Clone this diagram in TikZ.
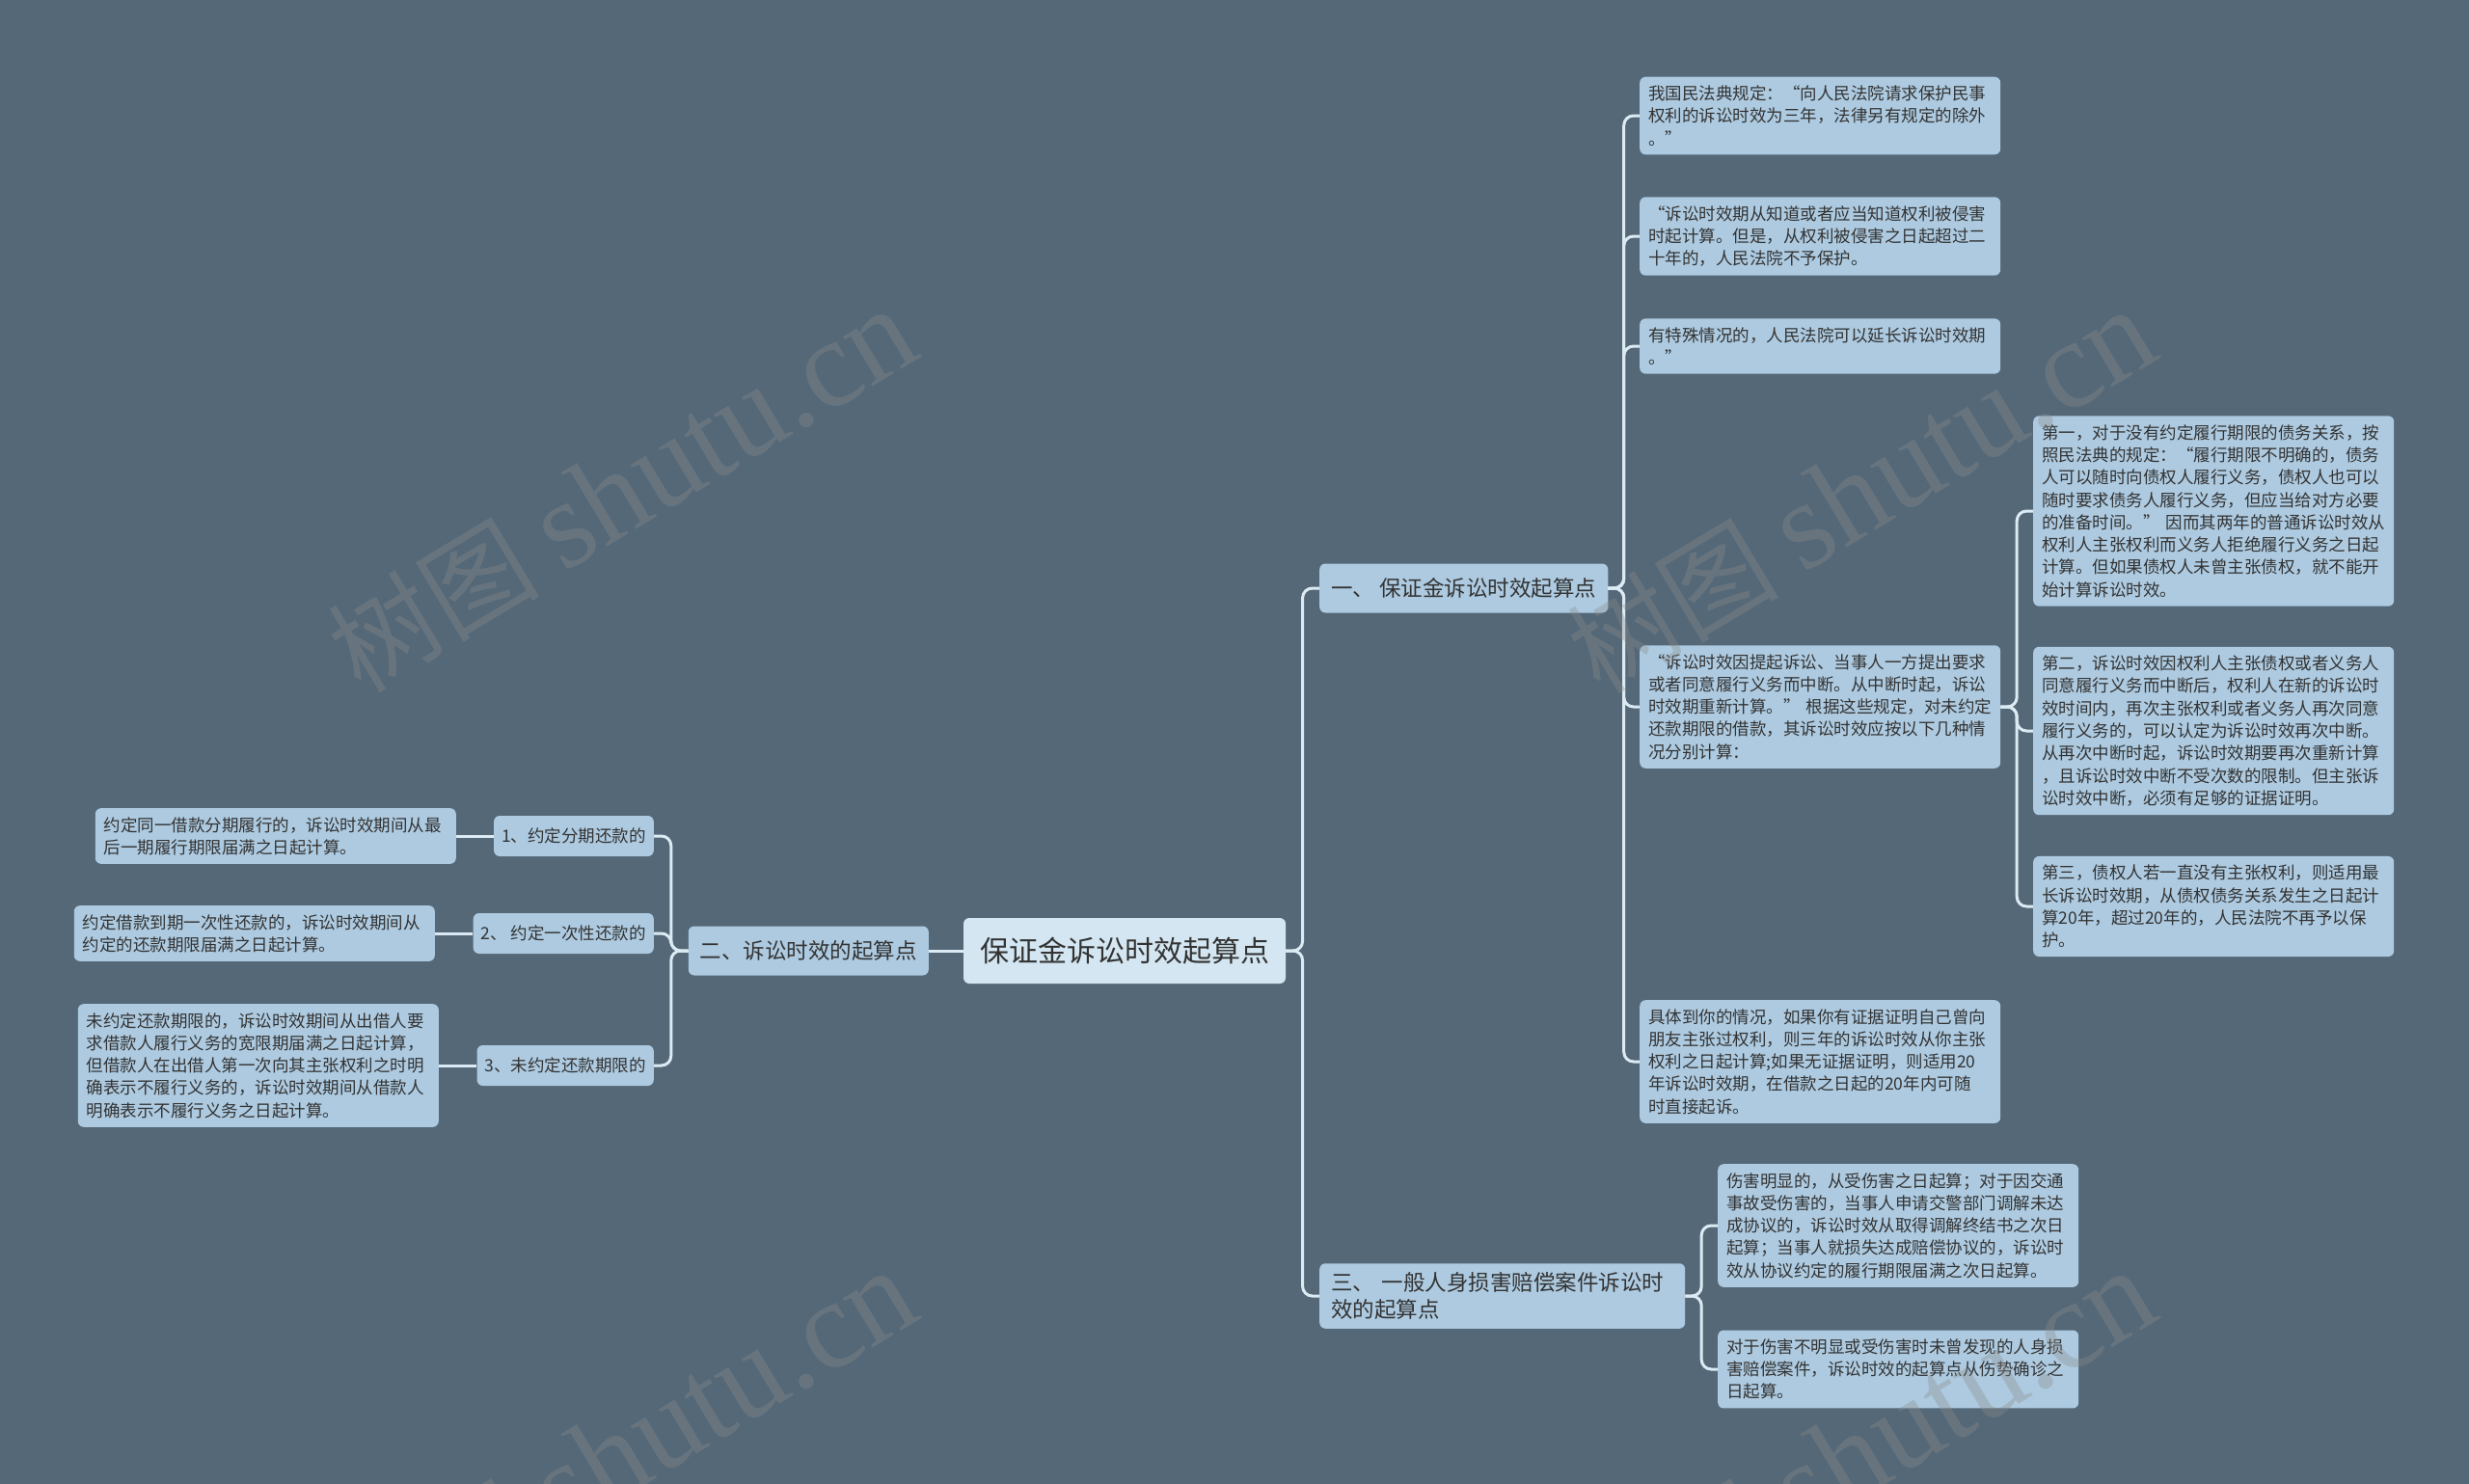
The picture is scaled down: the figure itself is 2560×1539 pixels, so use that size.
\documentclass[tikz,border=0pt]{standalone}
\usepackage{fontspec}
\setmainfont{Noto Sans CJK SC}
\newfontfamily\wmlatin{Liberation Serif}
\usetikzlibrary{calc}
\definecolor{bgc}{HTML}{546878}
\definecolor{nodec}{HTML}{ADCAE0}
\definecolor{rootc}{HTML}{D3E6F1}
\definecolor{linec}{HTML}{DCEBF3}
\definecolor{txtc}{HTML}{333333}
\definecolor{wmc}{HTML}{8C8C8C}
\tikzset{
  box/.style={fill=nodec, rounded corners=6pt, text=txtc, inner xsep=9pt, inner ysep=9pt, align=left},
  leafbox/.style={box, font=\fontsize{17.5}{23.3}\selectfont, text width=356pt},
  subbox/.style={box, font=\fontsize{17.5}{21}\selectfont, inner xsep=8pt, minimum height=42pt},
  branchbox/.style={box, font=\fontsize{22.5}{28.5}\selectfont, inner xsep=12pt, minimum height=51pt},
  rootbox/.style={box, fill=rootc, font=\fontsize{30}{36}\selectfont, inner xsep=17pt, minimum height=68pt},
  conn/.style={draw=linec, line width=3pt, rounded corners=10pt},
  wm/.style={text=wmc, opacity=0.35, text opacity=0.35, rotate=31, inner sep=0pt}
}
\newcommand\rconn[2]{\draw[conn] let \p1=(#1.east), \p2=(#2.west) in (\p1) -- ({(\x1+\x2)/2},\y1) |- (\p2);}
\newcommand\lconn[2]{\draw[conn] let \p1=(#1.west), \p2=(#2.east) in (\p1) -- ({(\x1+\x2)/2},\y1) |- (\p2);}
\begin{document}
\begin{tikzpicture}[x=1pt,y=-1pt]
\fill[bgc] (0,0) rectangle (2560,1539);
\useasboundingbox (0,0) rectangle (2560,1539);

% root and branches
\node[rootbox, anchor=center] (root) at (1166,986) {保证金诉讼时效起算点};
\node[branchbox, anchor=east] (b2) at (963,986) {二、诉讼时效的起算点};
\node[branchbox, anchor=west] (b1) at (1368,610) {一、 保证金诉讼时效起算点};
\node[branchbox, anchor=west, text width=355pt] (b3) at (1368,1344) {三、 一般人身损害赔偿案件诉讼时\\效的起算点};

% left subtree
\node[subbox, anchor=east] (s1) at (678,867) {1、约定分期还款的};
\node[subbox, anchor=east] (s2) at (678,968) {2、 约定一次性还款的};
\node[subbox, anchor=east] (s3) at (678,1105) {3、未约定还款期限的};
\node[leafbox, anchor=east] (a1) at (473,867) {约定同一借款分期履行的，诉讼时效期间从最\\后一期履行期限届满之日起计算。};
\node[leafbox, anchor=east] (a2) at (451,968) {约定借款到期一次性还款的，诉讼时效期间从\\约定的还款期限届满之日起计算。};
\node[leafbox, anchor=east] (a3) at (455,1105) {未约定还款期限的，诉讼时效期间从出借人要\\求借款人履行义务的宽限期届满之日起计算，\\但借款人在出借人第一次向其主张权利之时明\\确表示不履行义务的，诉讼时效期间从借款人\\明确表示不履行义务之日起计算。};

% right subtree one
\node[leafbox, anchor=west] (c1) at (1700,120) {我国民法典规定：“向人民法院请求保护民事\\权利的诉讼时效为三年，法律另有规定的除外\\。”};
\node[leafbox, anchor=west] (c2) at (1700,245) {“诉讼时效期从知道或者应当知道权利被侵害\\时起计算。但是，从权利被侵害之日起超过二\\十年的，人民法院不予保护。};
\node[leafbox, anchor=west] (c3) at (1700,359) {有特殊情况的，人民法院可以延长诉讼时效期\\。”};
\node[leafbox, anchor=west] (c4) at (1700,733) {“诉讼时效因提起诉讼、当事人一方提出要求\\或者同意履行义务而中断。从中断时起，诉讼\\时效期重新计算。” 根据这些规定，对未约定\\还款期限的借款，其诉讼时效应按以下几种情\\况分别计算：};
\node[leafbox, anchor=west] (c5) at (1700,1101) {具体到你的情况，如果你有证据证明自己曾向\\朋友主张过权利，则三年的诉讼时效从你主张\\权利之日起计算;如果无证据证明，则适用20\\年诉讼时效期，在借款之日起的20年内可随\\时直接起诉。};

\node[leafbox, anchor=west] (d1) at (2108,530) {第一，对于没有约定履行期限的债务关系，按\\照民法典的规定：“履行期限不明确的，债务\\人可以随时向债权人履行义务，债权人也可以\\随时要求债务人履行义务，但应当给对方必要\\的准备时间。” 因而其两年的普通诉讼时效从\\权利人主张权利而义务人拒绝履行义务之日起\\计算。但如果债权人未曾主张债权，就不能开\\始计算诉讼时效。};
\node[leafbox, anchor=west] (d2) at (2108,758) {第二，诉讼时效因权利人主张债权或者义务人\\同意履行义务而中断后，权利人在新的诉讼时\\效时间内，再次主张权利或者义务人再次同意\\履行义务的，可以认定为诉讼时效再次中断。\\从再次中断时起，诉讼时效期要再次重新计算\\，且诉讼时效中断不受次数的限制。但主张诉\\讼时效中断，必须有足够的证据证明。};
\node[leafbox, anchor=west] (d3) at (2108,940) {第三，债权人若一直没有主张权利，则适用最\\长诉讼时效期，从债权债务关系发生之日起计\\算20年，超过20年的，人民法院不再予以保\\护。};

% right subtree three
\node[leafbox, anchor=west] (t1) at (1781,1271) {伤害明显的，从受伤害之日起算；对于因交通\\事故受伤害的，当事人申请交警部门调解未达\\成协议的，诉讼时效从取得调解终结书之次日\\起算；当事人就损失达成赔偿协议的，诉讼时\\效从协议约定的履行期限届满之次日起算。};
\node[leafbox, anchor=west] (t2) at (1781,1420) {对于伤害不明显或受伤害时未曾发现的人身损\\害赔偿案件，诉讼时效的起算点从伤势确诊之\\日起算。};

% connectors
\begin{scope}[on background layer/.style={}]
\draw[conn] (root.west) -- (b2.east);
\rconn{root}{b1}
\rconn{root}{b3}
\lconn{b2}{s1}
\lconn{b2}{s2}
\lconn{b2}{s3}
\draw[conn] (s1.west) -- (a1.east);
\draw[conn] (s2.west) -- (a2.east);
\draw[conn] (s3.west) -- (a3.east);
\rconn{b1}{c1}
\rconn{b1}{c2}
\rconn{b1}{c3}
\rconn{b1}{c4}
\rconn{b1}{c5}
\rconn{c4}{d1}
\rconn{c4}{d2}
\rconn{c4}{d3}
\rconn{b3}{t1}
\rconn{b3}{t2}
\end{scope}

% watermarks
\begin{scope}
\clip (0,0) rectangle (2560,1539);
\node[wm] (w1) at (645,509) {\fontsize{110}{120}\selectfont 树图 {\wmlatin\fontsize{130}{140}\selectfont shutu.cn}};
\node[wm] (w2) at (1930,510) {\fontsize{110}{120}\selectfont 树图 {\wmlatin\fontsize{130}{140}\selectfont shutu.cn}};
\node[wm] (w3) at (645,1506) {\fontsize{110}{120}\selectfont 树图 {\wmlatin\fontsize{130}{140}\selectfont shutu.cn}};
\node[wm] (w4) at (1930,1506) {\fontsize{110}{120}\selectfont 树图 {\wmlatin\fontsize{130}{140}\selectfont shutu.cn}};
\end{scope}
\end{tikzpicture}
\end{document}
